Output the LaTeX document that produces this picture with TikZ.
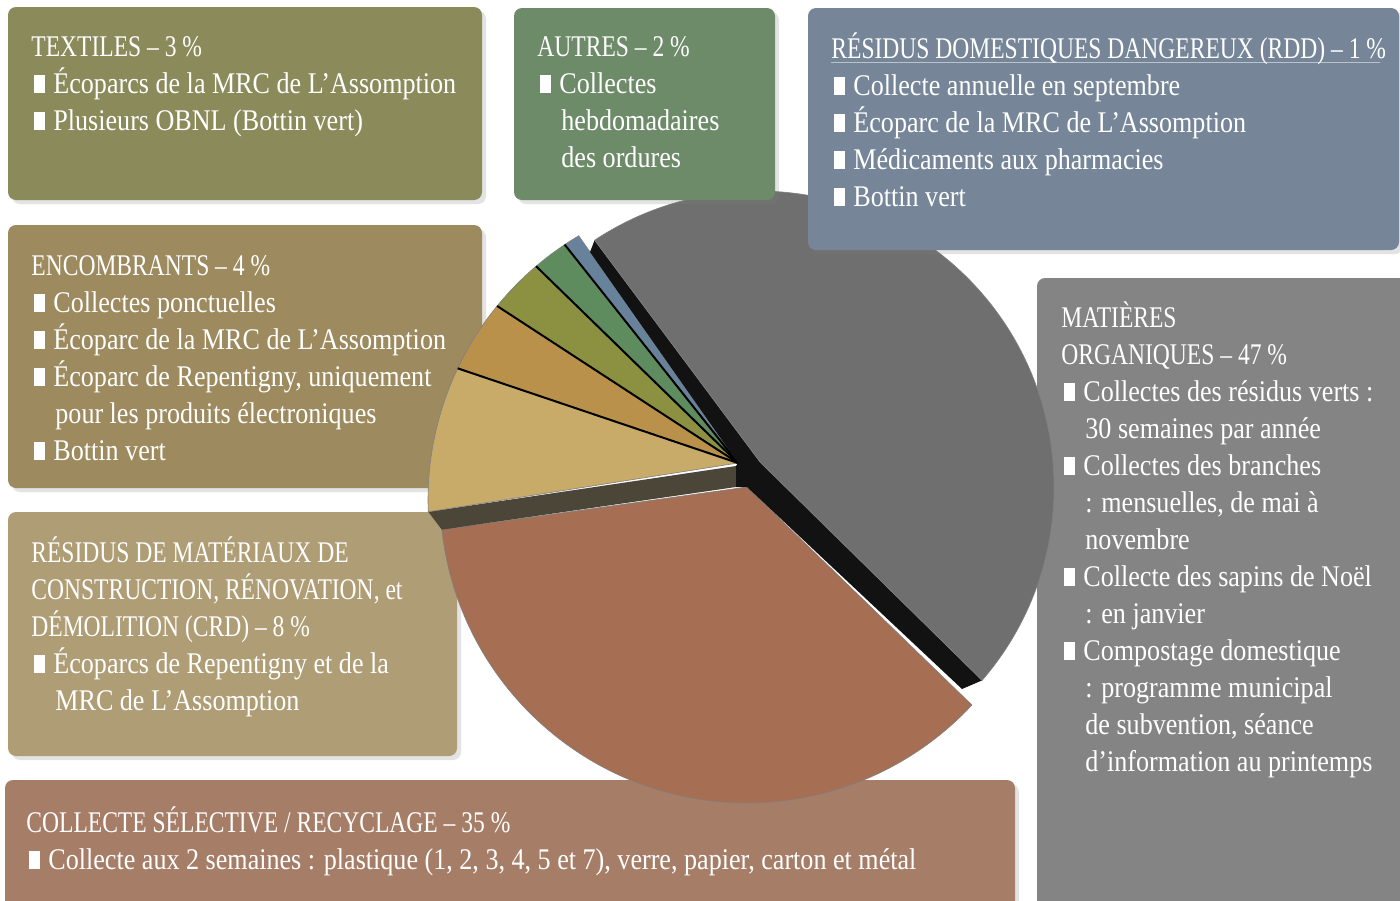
\documentclass[tikz,border=0pt]{standalone}
\usepackage{fontspec}
\setmainfont{Liberation Serif}[FakeStretch=0.87]
\newfontfamily\titre{Liberation Serif}[FakeStretch=0.785]
\usepackage{tikz}
\usetikzlibrary{shadows}
\definecolor{textilesc}{HTML}{8A8A5A}
\definecolor{autresc}{HTML}{6D8B69}
\definecolor{rddc}{HTML}{768698}
\definecolor{encombc}{HTML}{9D8A5E}
\definecolor{crdc}{HTML}{AF9D75}
\definecolor{collectec}{HTML}{A67E68}
\definecolor{organc}{HTML}{848484}
\definecolor{grayslice}{HTML}{6F6F6F}
\definecolor{brownslice}{HTML}{A66E53}
\definecolor{yellowslice}{HTML}{C8AA69}
\definecolor{goldslice}{HTML}{B9914B}
\definecolor{oliveslice}{HTML}{8C9141}
\definecolor{greenslice}{HTML}{5F8C5F}
\definecolor{blueslice}{HTML}{69829B}
\definecolor{darkface}{HTML}{4B4637}
\newcommand\puce{\hspace*{1.5pt}\rule{5.5pt}{9pt}\hspace*{4pt}}
\newcommand\suite{\hspace*{12pt}}
\newcommand\hd{\rule{0pt}{12pt}}
\def\piecentre{(735,500)}
\def\graycentre{(758,487)}
\def\browncentre{(747,496)}
\tikzset{
  panel/.style={fill=#1, rounded corners=4pt,
    drop shadow={shadow xshift=2pt, shadow yshift=-2pt, opacity=0.22}},
  legend/.style={anchor=north west, inner sep=0pt, align=left, text=white,
    font=\fontsize{15}{18.5}\selectfont},
  slice/.style={fill=#1, draw=black!50, line width=0.3pt},
  sep/.style={line width=1pt, black}
}

\begin{document}
\begin{tikzpicture}[x=0.5pt,y=-0.5pt]
    \useasboundingbox (0,0) rectangle (1400,900);
    \fill[white] (0,0) rectangle (1400,900);
    % les encadres sous la tarte
    \path[panel=textilesc] (8,7) rectangle (482,200);
    \path[panel=encombc] (8,225) rectangle (482,488);
    \path[panel=crdc] (8,512) rectangle (457,756);
    \path[panel=collectec] (5,780) rectangle (1015,915);
    \path[panel=organc] (1037,278) rectangle (1415,915);
    % la tarte
    \fill[slice=brownslice] (747,487) -- ([shift=\browncentre]-186.3:307)
        arc[start angle=-186.3, end angle=-317.1, radius=307] -- cycle;
    \fill[darkface] ([shift=\piecentre]-182.2:307) -- (736,466) -- (736,487)
        -- ([shift=\browncentre]-186.3:307) -- cycle;
    \foreach \a/\b/\c in {120.6/123.7/blueslice, 123.7/130.4/greenslice,
        130.4/140.8/oliveslice, 140.8/154.6/goldslice, 154.6/182.2/yellowslice}
        \fill[slice=\c] (738,463) -- ([shift=\piecentre]-\a:307)
            arc[start angle=-\a, end angle=-\b, radius=307] -- cycle;
    \foreach \a in {123.7,130.4,140.8,154.6}
        \draw[sep] (738,463) -- ([shift=\piecentre]-\a:307);
    \fill[black!93] ([shift=\graycentre]-123.5:296) -- (760,462) -- ([shift=\graycentre]40.8:296)
        -- (962,689) -- (747,487) -- (736,487) -- (736,466) -- (738,463) -- (590,252) -- cycle;
    \fill[slice=grayslice] (760,462) -- ([shift=\graycentre]40.8:296)
        arc[start angle=40.8, end angle=-123.5, radius=296] -- cycle;
    % les encadres du haut, sur la tarte
    \path[panel=autresc] (514,8) rectangle (775,200);
    \path[panel=rddc] (808,8) rectangle (1399,250);
    \draw[white, opacity=.5, line width=.4pt] (831,62) -- (1380,62);
    % les textes
    \node[legend] (textiles) at (31,32) {\hd{\titre TEXTILES – 3 \%}\\
        \puce Écoparcs de la MRC de L’Assomption\\
        \puce Plusieurs OBNL (Bottin vert)};
    \node[legend] (autres) at (537,32) {\hd{\titre AUTRES – 2 \%}\\
        \puce Collectes\\
        \suite hebdomadaires\\
        \suite des ordures};
    \node[legend] (rdd) at (831,32) {\hd{\titre RÉSIDUS DOMESTIQUES DANGEREUX (RDD) – 1 \%}\\
        \puce Collecte annuelle en septembre\\
        \puce Écoparc de la MRC de L’Assomption\\
        \puce Médicaments aux pharmacies\\
        \puce Bottin vert};
    \node[legend] (encombrants) at (31,251) {\hd{\titre ENCOMBRANTS – 4 \%}\\
        \puce Collectes ponctuelles\\
        \puce Écoparc de la MRC de L’Assomption\\
        \puce Écoparc de Repentigny, uniquement\\
        \suite pour les produits électroniques\\
        \puce Bottin vert};
    \node[legend] (crd) at (31,536) {\hd{\titre RÉSIDUS DE MATÉRIAUX DE}\\
        {\titre CONSTRUCTION, RÉNOVATION, et}\\
        {\titre DÉMOLITION (CRD) – 8 \%}\\
        \puce Écoparcs de Repentigny et de la\\
        \suite MRC de L’Assomption};
    \node[legend] (collecte) at (26,806) {\hd{\titre COLLECTE SÉLECTIVE / RECYCLAGE – 35 \%}\\
        \puce Collecte aux 2 semaines : plastique (1, 2, 3, 4, 5 et 7), verre, papier, carton et métal};
    \node[legend] (organiques) at (1061,301) {\hd{\titre MATIÈRES}\\
        {\titre ORGANIQUES – 47 \%}\\
        \puce Collectes des résidus verts :\\
        \suite 30 semaines par année\\
        \puce Collectes des branches\\
        \suite : mensuelles, de mai à\\
        \suite novembre\\
        \puce Collecte des sapins de Noël\\
        \suite : en janvier\\
        \puce Compostage domestique\\
        \suite : programme municipal\\
        \suite de subvention, séance\\
        \suite d’information au printemps};
\end{tikzpicture}
\end{document}
